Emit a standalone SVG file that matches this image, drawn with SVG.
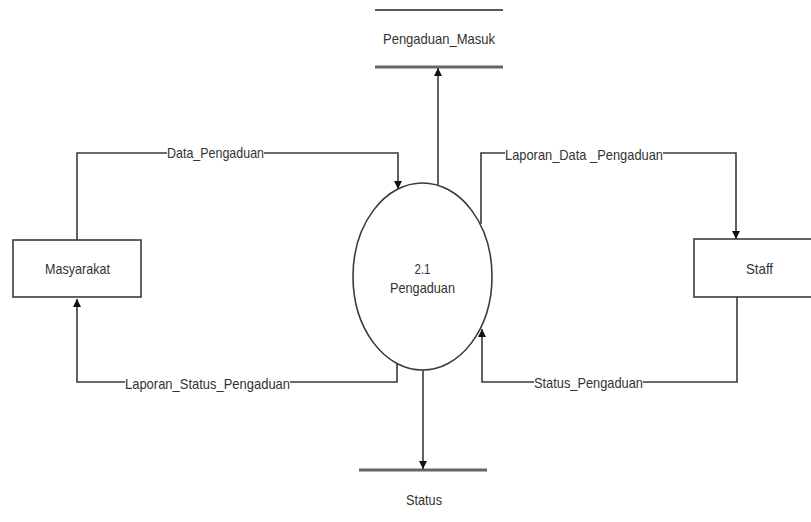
<svg xmlns="http://www.w3.org/2000/svg" width="811" height="522" viewBox="0 0 811 522">
  <style>
    .txt { font-family: "Liberation Sans", Arial, sans-serif; font-size: 14.5px; fill: #333; text-anchor: middle; }
    .line { fill: none; stroke: #3a3a3a; stroke-width: 1.6; }
    .box { fill: #fff; stroke: #3a3a3a; stroke-width: 1.6; }
    .store-top { stroke: #222; stroke-width: 1.6; }
    .store-bot { stroke: #666; stroke-width: 3; }
    .lblbg { fill: #fff; }
  </style>
  <defs>
    <marker id="arrow" viewBox="0 0 10 10" refX="10" refY="5" markerWidth="8" markerHeight="8" markerUnits="userSpaceOnUse" orient="auto">
      <path d="M0,0 L10,5 L0,10 Z" fill="#111"/>
    </marker>
  </defs>
  <rect width="811" height="522" fill="#fff"/>

  <!-- data stores -->
  <g id="store-pengaduan-masuk">
    <line class="store-top" x1="375" y1="10" x2="503" y2="10"/>
    <line class="store-bot" x1="375" y1="67" x2="503" y2="67"/>
    <text class="txt" x="439" y="44" textLength="112" lengthAdjust="spacingAndGlyphs">Pengaduan_Masuk</text>
  </g>
  <g id="store-status">
    <line class="store-bot" x1="359" y1="470" x2="487" y2="470"/>
    <text class="txt" x="424" y="505" textLength="36" lengthAdjust="spacingAndGlyphs">Status</text>
  </g>

  <!-- connectors -->
  <g id="connectors">
    <path class="line" d="M438,186 L438,68" marker-end="url(#arrow)"/>
    <path class="line" d="M423,370 L423,469" marker-end="url(#arrow)"/>
    <path class="line" d="M77,240 L77,153 L398,153 L398,189" marker-end="url(#arrow)"/>
    <path class="line" d="M397,364 L397,382 L77,382 L77,299" marker-end="url(#arrow)"/>
    <path class="line" d="M481,224 L481,153 L736,153 L736,239" marker-end="url(#arrow)"/>
    <path class="line" d="M737,297 L737,382 L482,382 L482,329" marker-end="url(#arrow)"/>

    <rect class="lblbg" x="167" y="145" width="97" height="15"/>
    <text class="txt" x="215.5" y="158" textLength="97" lengthAdjust="spacingAndGlyphs">Data_Pengaduan</text>
    <rect class="lblbg" x="505" y="147" width="158" height="15"/>
    <text class="txt" x="584" y="160" textLength="158" lengthAdjust="spacingAndGlyphs">Laporan_Data _Pengaduan</text>
    <rect class="lblbg" x="125" y="376" width="165" height="15"/>
    <text class="txt" x="207.5" y="389" textLength="165" lengthAdjust="spacingAndGlyphs">Laporan_Status_Pengaduan</text>
    <rect class="lblbg" x="534" y="375" width="109" height="15"/>
    <text class="txt" x="588.5" y="388" textLength="109" lengthAdjust="spacingAndGlyphs">Status_Pengaduan</text>
  </g>

  <!-- external entities -->
  <g id="masyarakat">
    <rect class="box" x="13" y="240" width="128" height="57"/>
    <text class="txt" x="77.5" y="274" textLength="65" lengthAdjust="spacingAndGlyphs">Masyarakat</text>
  </g>
  <g id="staff">
    <rect class="box" x="694" y="239" width="130" height="58"/>
    <text class="txt" x="759.5" y="274" textLength="27" lengthAdjust="spacingAndGlyphs">Staff</text>
  </g>

  <!-- process -->
  <g id="proses-pengaduan">
    <ellipse class="box" cx="422.5" cy="276.5" rx="69.5" ry="93.5"/>
    <text class="txt" x="422.5" y="274" textLength="16" lengthAdjust="spacingAndGlyphs">2.1</text>
    <text class="txt" x="422.5" y="293" textLength="65" lengthAdjust="spacingAndGlyphs">Pengaduan</text>
  </g>
</svg>
